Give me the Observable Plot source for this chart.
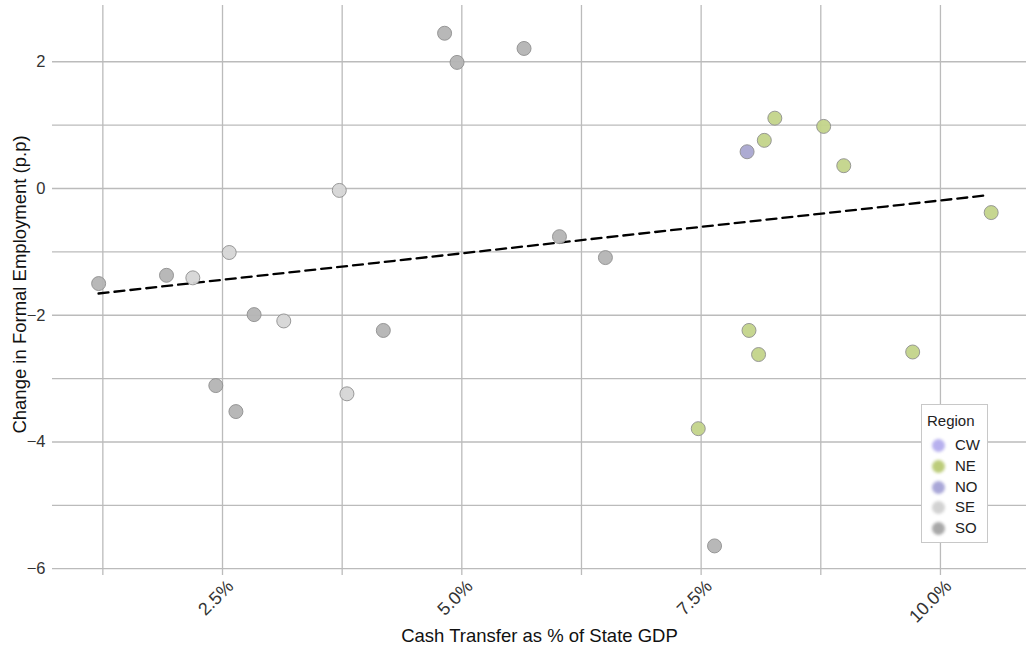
<!DOCTYPE html>
<html>
<head>
<meta charset="utf-8">
<script src="https://cdn.jsdelivr.net/npm/d3@7"></script>
<script src="https://cdn.jsdelivr.net/npm/@observablehq/plot@0.6"></script>
<style>
  html, body { margin: 0; padding: 0; background: #fff; }
  #wrap { position: relative; width: 1026px; height: 646px; font-family: "Liberation Sans", Arial, sans-serif; }
  #legend {
    position: absolute; left: 921px; top: 404px; width: 67px; height: 139px;
    border: 1px solid #c8c8c8; background: #fff; box-sizing: border-box;
    font-size: 15px; color: #222;
  }
  #legend .title { position: absolute; left: 5px; top: 7px; }
  #legend .item { position: absolute; left: 0; height: 20px; width: 100%; }
  #legend .sw { position: absolute; left: 10px; top: 4px; width: 13px; height: 13px; border-radius: 50%; filter: blur(1.5px); }
  #legend .lab { position: absolute; left: 33px; top: 1px; }
</style>
</head>
<body>
<div id="wrap"></div>
<script>
// Cash transfers (% of state GDP) vs change in formal employment, one dot per state
const stateX = [1.206, 1.915, 2.19, 2.57, 2.83, 3.14, 2.43, 2.64, 3.72, 3.80, 4.18, 4.82, 4.95, 5.65,
                6.02, 6.50, 7.47, 7.64, 7.98, 8.16, 8.27, 8.78, 8.99, 8.00, 8.10, 9.71, 10.53];
const stateY = [-1.50, -1.37, -1.41, -1.01, -1.99, -2.09, -3.11, -3.52, -0.03, -3.24, -2.24, 2.45, 1.99, 2.21,
                -0.76, -1.09, -3.79, -5.64, 0.58, 0.76, 1.11, 0.98, 0.36, -2.24, -2.62, -2.58, -0.38];
const stateRegion = ["SO", "SO", "SE", "SE", "SO", "SE", "SO", "SO", "SE", "SE", "SO", "SO", "SO", "SO",
                     "SO", "SO", "NE", "SO", "NO", "NE", "NE", "NE", "NE", "NE", "NE", "NE", "NE"];

// Fitted trend (endpoints of the dashed line)
const trendX = [1.205, 10.47];
const trendY = [-1.657, -0.110];

const regions = ["CW", "NE", "NO", "SE", "SO"];
const regionColors = ["#b9b2ec", "#c3d48a", "#a9a7d0", "#d6d6d6", "#b4b4b4"];
const legendColors = ["#b7b0ee", "#bccc7a", "#a9a7d8", "#d2d2d2", "#a8a8a8"];

const xGrid = [1.25, 2.5, 3.75, 5, 6.25, 7.5, 8.75, 10];
const xTicks = [2.5, 5, 7.5, 10];
const yGrid = [-6, -5, -4, -3, -2, -1, 0, 1, 2];
const yTicks = [-6, -4, -2, 0, 2];

const xTitle = "Cash Transfer as % of State GDP";
const yTitle = "Change in Formal Employment (p.p)";

const points = stateX.map((x, i) => ({x, y: stateY[i], region: stateRegion[i]}));
const trend = trendX.map((x, i) => ({x, y: trendY[i]}));

const gridColor = "#bbbbbb";

const chart = Plot.plot({
  width: 1026,
  height: 646,
  marginLeft: 52,
  marginRight: 0,
  marginTop: 5,
  marginBottom: 71,
  style: {fontFamily: "'Liberation Sans', Arial, sans-serif", background: "#fff", overflow: "visible"},
  x: {domain: [0.724, 10.899], axis: null},
  y: {domain: [-6.107, 2.888], axis: null},
  color: {domain: regions, range: regionColors},
  marks: [
    Plot.ruleY(yGrid, {stroke: gridColor, strokeWidth: 1.3}),
    Plot.ruleX(xGrid, {stroke: gridColor, strokeWidth: 1.3}),
    Plot.axisY({ticks: yTicks, tickSize: 0, tickPadding: 7, fontSize: 16.5, fill: "#333", label: null}),
    Plot.text(xTicks, {
      x: d => d, frameAnchor: "bottom", dy: 3, dx: 3,
      text: d => d.toFixed(1) + "%", rotate: -45, textAnchor: "end", lineAnchor: "top",
      fontSize: 18, fill: "#333"
    }),
    Plot.text([xTitle], {frameAnchor: "bottom", dy: 66, lineAnchor: "bottom", fontSize: 18.5, fill: "#111"}),
    Plot.text([yTitle], {frameAnchor: "left", textAnchor: "middle", dx: -32, dy: -6, rotate: -90, fontSize: 18.5, fill: "#111"}),
    Plot.line(trend, {x: "x", y: "y", stroke: "#000", strokeWidth: 2.3, strokeDasharray: "10,6"}),
    Plot.dot(points, {x: "x", y: "y", fill: "region", r: 7, stroke: "#8e8e8e", strokeWidth: 0.9, fillOpacity: 0.95})
  ]
});

const wrap = document.getElementById("wrap");
wrap.appendChild(chart);

const legend = document.createElement("div");
legend.id = "legend";
legend.innerHTML = `<div class="title">Region</div>` + regions.map((r, i) =>
  `<div class="item" style="top:${30 + i * 20.8}px"><div class="sw" style="background:${legendColors[i]}"></div><div class="lab">${r}</div></div>`
).join("");
wrap.appendChild(legend);
</script>
</body>
</html>
